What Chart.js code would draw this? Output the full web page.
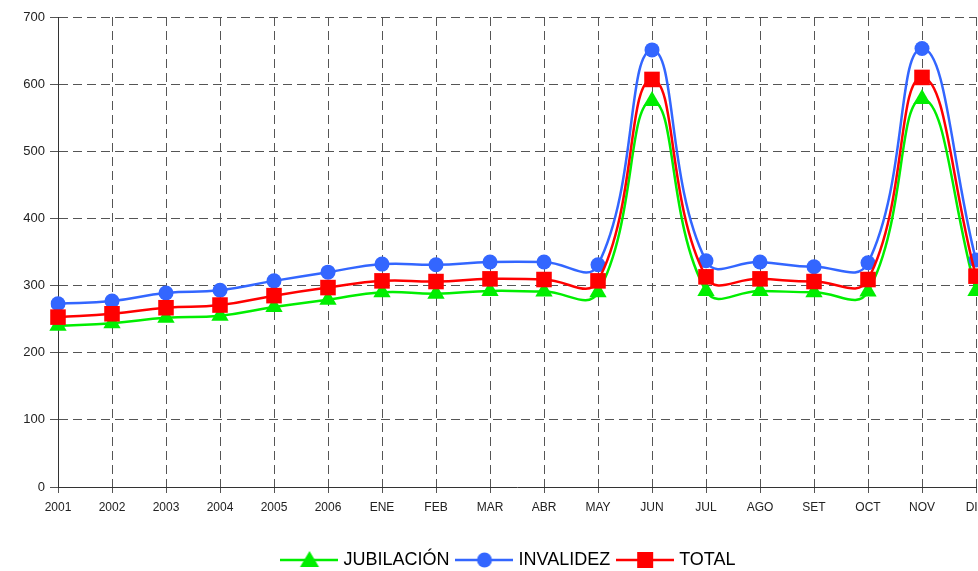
<!DOCTYPE html>
<html>
<head>
<meta charset="utf-8">
<script src="https://cdn.jsdelivr.net/npm/chart.js@4/dist/chart.umd.min.js"></script>
<style>
  html, body { margin: 0; padding: 0; background: #fff; overflow: hidden; }
  #wrap { width: 978px; height: 571px; overflow: hidden; }
</style>
</head>
<body>
<div id="wrap"><canvas id="myChart" width="1040" height="571"></canvas></div>
<script>
// categories (years then months of the current year)
const labels = ['2001', '2002', '2003', '2004', '2005', '2006',
  'ENE', 'FEB', 'MAR', 'ABR', 'MAY', 'JUN', 'JUL', 'AGO', 'SET', 'OCT', 'NOV', 'DIC'];

const jubilacion = [240, 244, 252, 255, 268, 279, 290, 288, 292, 291, 290, 575, 292, 292, 290, 291, 578, 292];
const invalidez  = [273, 277, 289, 293, 307, 320, 332, 331, 335, 335, 331, 651, 337, 335, 328, 334, 653, 338];
const total      = [253, 258, 267, 271, 285, 297, 307, 306, 310, 309, 307, 607, 313, 310, 306, 309, 610, 314];

const yTicks = [0, 100, 200, 300, 400, 500, 600, 700];
const legendOrder = ['JUBILACIÓN', 'INVALIDEZ', 'TOTAL'];

const FONT = '"Liberation Sans Narrow", "Arial Narrow", "Liberation Sans", Arial, sans-serif';

/**
 * Builds a small legend image: a line with the marker in the middle.
 */
function legendIcon(color, style) {
  const c = document.createElement('canvas');
  c.width = 58; c.height = 20;
  const g = c.getContext('2d');
  g.strokeStyle = color; g.fillStyle = color; g.lineWidth = 2.5;
  g.beginPath(); g.moveTo(0, 10); g.lineTo(58, 10); g.stroke();
  g.beginPath();
  if (style === 'triangle') { g.moveTo(29, 1); g.lineTo(38.5, 17); g.lineTo(19.5, 17); g.closePath(); }
  else if (style === 'circle') { g.arc(29, 10, 7.5, 0, Math.PI * 2); }
  else { g.rect(21, 2, 16, 16); }
  g.fill();
  return c;
}

function series(label, data, color, style, radius) {
  return {
    label: label,
    data: data,
    borderColor: color,
    backgroundColor: color,
    borderWidth: 2.5,
    pointStyle: style,
    pointRadius: radius,
    pointHoverRadius: radius,
    pointBorderWidth: 0,
    tension: 0.45,
    legendIcon: legendIcon(color, style)
  };
}

// keeps the legend box at a fixed height and nudges it to the right
const legendPlacement = {
  id: 'legendPlacement',
  beforeInit(chart) {
    const fit = chart.legend.fit;
    chart.legend.fit = function () {
      fit.call(this);
      this.height = 30;
    };
  },
  afterLayout(chart) {
    chart.legend.left += 22;
    chart.legend.right += 22;
  }
};

const ctx = document.getElementById('myChart');

window.myChart = new Chart(ctx, {
  type: 'line',
  data: {
    labels: labels,
    // first dataset is drawn on top
    datasets: [
      series('TOTAL', total, '#FF0000', 'rect', 11),
      series('INVALIDEZ', invalidez, '#3366FF', 'circle', 7.5),
      series('JUBILACIÓN', jubilacion, '#00EE00', 'triangle', 10)
    ]
  },
  plugins: [legendPlacement],
  options: {
    responsive: false,
    animation: false,
    layout: { padding: { top: 17, right: 64, left: 0, bottom: 0 } },
    plugins: {
      tooltip: { enabled: false },
      legend: {
        position: 'bottom',
        labels: {
          font: { family: FONT, size: 18 },
          color: '#000',
          usePointStyle: true,
          pointStyleWidth: 50,
          padding: 10,
          sort: (a, b) => legendOrder.indexOf(a.text) - legendOrder.indexOf(b.text),
          generateLabels: (chart) => chart.data.datasets.map((ds, i) => ({
            text: ds.label,
            pointStyle: ds.legendIcon,
            fillStyle: ds.borderColor,
            strokeStyle: ds.borderColor,
            lineWidth: 0,
            datasetIndex: i,
            hidden: false
          }))
        }
      }
    },
    scales: {
      x: {
        offset: false,
        afterFit: (scale) => { scale.height = 54; },
        grid: { color: '#555', lineWidth: 1, tickLength: 6 },
        border: { color: '#333', width: 1, dash: [9, 5] },
        ticks: { font: { family: FONT, size: 12 }, color: '#222', maxRotation: 0, autoSkip: false, padding: 7 }
      },
      y: {
        min: 0,
        max: 700,
        afterFit: (scale) => { scale.width = 58; },
        afterBuildTicks: (scale) => { scale.ticks = yTicks.map(v => ({ value: v })); },
        grid: { color: '#555', lineWidth: 1, tickLength: 8 },
        border: { color: '#333', width: 1, dash: [9, 5] },
        ticks: { font: { family: FONT, size: 13 }, color: '#222', padding: 5 }
      }
    }
  }
});
</script>
</body>
</html>
